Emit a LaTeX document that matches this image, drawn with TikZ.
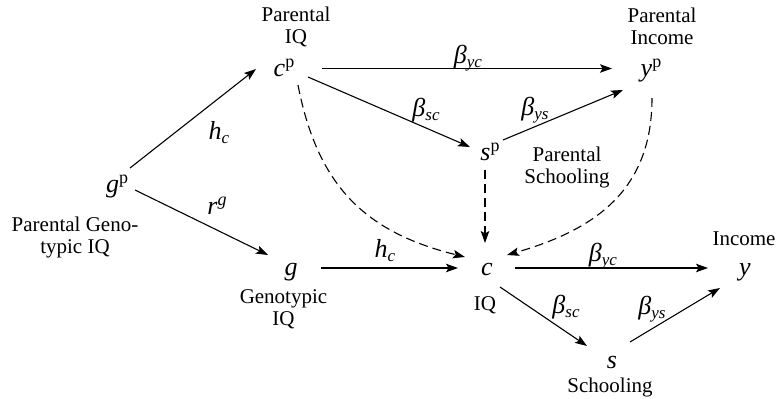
\documentclass[tikz,border=0pt]{standalone}
\usepackage{fontspec}
\setmainfont{Liberation Serif}
\usetikzlibrary{arrows.meta,calc}
\newcommand\Mv[1]{{\fontsize{26}{28}\selectfont\itshape #1}}
\newcommand\Up[1]{\raisebox{9pt}{\fontsize{18}{18}\selectfont\upshape #1}}
\newcommand\UpI[1]{\raisebox{9pt}{\fontsize{18}{18}\selectfont\itshape #1}}
\newcommand\Dn[1]{\raisebox{-4pt}{\fontsize{17}{17}\selectfont\itshape #1}}
\tikzset{
  var/.style={inner sep=0pt, text height=17pt, text depth=6pt, anchor=base},
  coef/.style={inner sep=0pt},
  lab/.style={inner sep=0pt, align=center, font=\fontsize{21}{22.3}\selectfont},
  arr/.style={line width=1.1pt, -{Stealth[length=12pt,width=8.5pt,inset=2.5pt]}},
  darr/.style={arr, dash pattern=on 9pt off 5pt}
}
\begin{document}
\begin{tikzpicture}[x=1pt,y=1pt]
\useasboundingbox (0,0) rectangle (777,-399);
% variables
\node[var] (gp) at (117,-192) {\Mv{g}\Up{p}};
\node[var] (cp) at (284,-76) {\Mv{c}\Up{p}};
\node[var] (yp) at (651,-76) {\Mv{y}\Up{p}};
\node[var] (sp) at (490,-160) {\Mv{s}\Up{p}};
\node[var] (g) at (291,-275) {\Mv{g}};
\node[var] (c) at (487,-275) {\Mv{c}};
\node[var] (y) at (745,-275) {\Mv{y}};
\node[var] (s) at (612,-368) {\Mv{s}};
% descriptive labels
\node[lab] (lcp) at (296,-27) {Parental\\IQ};
\node[lab] (lyp) at (662,-26.5) {Parental\\Income};
\node[lab] (lsp) at (567,-167.5) {Parental\\Schooling};
\node[lab] (lgp) at (75,-237.5) {Parental Geno-\\typic IQ};
\node[lab] (lg) at (283.5,-309) {Genotypic\\IQ};
\node[lab] (lc) at (485,-305) {IQ};
\node[lab] (ly) at (744,-238.5) {Income};
\node[lab] (ls) at (610,-387) {Schooling};
% coefficient labels
\node[coef] (hc1) at (219,-133) {\Mv{h}\Dn{c}};
\node[coef] (rg) at (217,-206) {\Mv{r}\UpI{g}};
\node[coef] (byc1) at (468,-58) {\Mv{β}\Dn{yc}};
\node[coef] (bsc1) at (426,-110) {\Mv{β}\Dn{sc}};
\node[coef] (bys1) at (535,-110) {\Mv{β}\Dn{ys}};
\node[coef] (hc2) at (385,-251) {\Mv{h}\Dn{c}};
\node[coef] (byc2) at (603,-256) {\Mv{β}\Dn{yc}};
\node[coef] (bsc2) at (566,-307) {\Mv{β}\Dn{sc}};
\node[coef] (bys2) at (652,-309) {\Mv{β}\Dn{ys}};
% solid arrows
\draw[arr] ($(gp)+(13,18.5)$) -- ($(cp)+(-28,1.5)$);
\draw[arr] ($(gp)+(18,-3.5)$) -- ($(g)+(-23,14.5)$);
\draw[arr] ($(cp)+(38,2)$) -- ($(yp)+(-39,2)$);
\draw[arr] ($(cp)+(24,-6.5)$) -- ($(sp)+(-20,7.5)$);
\draw[arr] ($(sp)+(13,14.5)$) -- ($(yp)+(-28,-19.5)$);
\draw[arr] ($(g)+(30,1.5)$) -- ($(c)+(-29,1.5)$);
\draw[arr] ($(c)+(28,1.5)$) -- ($(y)+(-37,1.5)$);
\draw[arr] ($(c)+(13,-17.5)$) -- ($(s)+(-25,16.5)$);
\draw[arr] ($(s)+(18,20.5)$) -- ($(y)+(-25,-18.5)$);
% dashed arrows
\draw[darr] ($(sp)+(-5,-15.5)$) -- ($(c)+(-2,26.5)$);
\draw[darr] ($(cp)+(14,-14.5)$) to[out=-79,in=166,looseness=1.1] ($(c)+(-22,12.5)$);
\draw[darr] ($(yp)+(1,-27.5)$) to[out=-90,in=16,looseness=1.1] ($(c)+(20,14.5)$);
\end{tikzpicture}
\end{document}
